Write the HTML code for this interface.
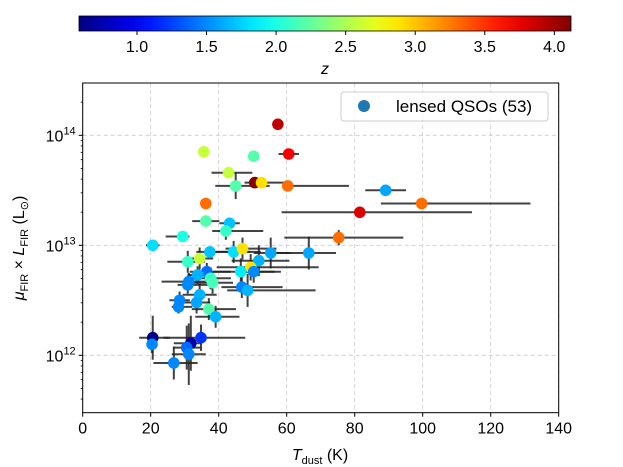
<!DOCTYPE html>
<html><head><meta charset="utf-8"><style>
html,body{margin:0;padding:0;background:#fff;}
svg{display:block;font-family:"Liberation Sans","DejaVu Sans",sans-serif;}
</style></head><body>
<svg id="chart" width="623" height="467" viewBox="0 0 623 467" xmlns="http://www.w3.org/2000/svg">
<defs><linearGradient id="jetgrad" x1="0" x2="1" y1="0" y2="0"></linearGradient></defs>
<g id="cbar"></g>
<g id="grid"></g>
<g id="errs"></g>
<g id="pts"></g>
<g id="axes"></g>
<g id="legend">
<rect x="341" y="92" width="207" height="29" rx="3" fill="#fff" fill-opacity="0.8" stroke="#ccc"/>
<circle cx="364" cy="106" r="6" fill="#1f77b4"/>
<text x="396" y="112" font-size="17" fill="#000">lensed QSOs (53)</text>
</g>
<text x="320" y="460" font-size="16" text-anchor="middle"><tspan font-style="italic">T</tspan><tspan font-size="11" dy="4">dust</tspan><tspan dy="-4"> (K)</tspan></text>
<text transform="translate(24,248) rotate(-90)" font-size="16" text-anchor="middle"><tspan font-style="italic">μ</tspan><tspan font-size="11" dy="4">FIR</tspan><tspan dy="-4"> × </tspan><tspan font-style="italic">L</tspan><tspan font-size="11" dy="4">FIR</tspan><tspan dy="-4"> (L</tspan><tspan font-size="11" dy="4">⊙</tspan><tspan dy="-4">)</tspan></text>
<text x="325" y="74" font-size="16" font-style="italic" text-anchor="middle">z</text>
</svg>
<script>
const tdust=[57.4,35.6,50.3,60.6,42.9,50.6,52.6,45.0,60.3,89.1,36.2,99.7,81.5,36.2,43.2,42.1,29.4,20.6,75.3,37.4,44.4,47.0,55.3,66.5,51.8,34.4,30.9,49.4,46.5,36.5,33.8,37.6,38.2,31.2,30.9,46.8,48.5,34.4,28.5,28.2,33.5,37.1,39.1,20.6,20.4,34.8,31.8,30.6,31.2,26.8,50.3];
const logLum=[14.10,13.85,13.81,13.83,13.66,13.57,13.57,13.54,13.54,13.50,13.38,13.38,13.30,13.22,13.20,13.13,13.08,13.00,13.07,12.94,12.94,12.97,12.93,12.93,12.86,12.88,12.85,12.80,12.76,12.76,12.73,12.70,12.66,12.67,12.64,12.62,12.59,12.55,12.50,12.44,12.48,12.42,12.35,12.16,12.10,12.16,12.11,12.07,12.01,11.93,12.76];
const redshift=[3.9,2.6,2.2,3.7,2.6,4.1,2.9,2.2,3.3,1.6,3.3,3.3,3.8,2.2,1.7,2.1,2.0,1.8,3.3,1.7,1.8,2.9,1.6,1.6,1.65,2.6,2.1,2.9,1.85,1.4,1.65,2.1,2.15,1.5,1.5,1.5,1.65,1.65,1.5,1.5,1.6,2.2,1.65,0.6,1.5,1.2,0.7,1.4,1.5,1.5,1.5];
const tErrLo=[0,0,0,3,5,3,3,6,0,6,0,12,23,4,3,4,5,2,16,4,7,5,5,12,8,4,6,10,8,5,3,5,6,8,3,6,6,5,3,2,4,5,6,4,1,11,5,4,5,6,5];
const tErrHi=[0,0,0,3,7,3,9,10,18,6,0,32,33,4,3,11,2,2,19,12,8,10,6,8,9,4,5,20,10,7,5,6,6,5,6,12,20,5,3,4,4,8,7,5,1,13,3,4,5,7,8];
const lumErrDex=[0,0,0,0,0.05,0,0,0.12,0,0,0,0,0,0,0.05,0.08,0,0,0.07,0,0.1,0.1,0.14,0.15,0.14,0.1,0.1,0.12,0.12,0.08,0.08,0.1,0.1,0.08,0.08,0.1,0.15,0.1,0.08,0.06,0.1,0.1,0.1,0.2,0.08,0.12,0.25,0.2,0.28,0.15,0.1];
const xTicks=[0,20,40,60,80,100,120,140];
const yTickExp=[12,13,14];
const zTicks=[1.0,1.5,2.0,2.5,3.0,3.5,4.0];

const NS="http://www.w3.org/2000/svg";
const X0=82.7,X1=558.7,Y0=83,Y1=412.7;
const xs=t=>X0+(t-0)*(X1-X0)/140;
const ys=l=>245.3-(l-13)*110;
const ZMIN=0.583,ZMAX=4.12,CB0=79,CB1=571;
const zs=z=>CB0+(z-ZMIN)*(CB1-CB0)/(ZMAX-ZMIN);
function jet(t){const c=v=>Math.round(255*Math.max(0,Math.min(1,v)));
 return `rgb(${c(1.5-Math.abs(4*t-3))},${c(1.5-Math.abs(4*t-2))},${c(1.5-Math.abs(4*t-1))})`;}
const zc=z=>jet((z-ZMIN)/(ZMAX-ZMIN));
function mk(tag,at,parent){const e=document.createElementNS(NS,tag);for(const k in at)e.setAttribute(k,at[k]);parent.appendChild(e);return e;}

const grad=document.getElementById('jetgrad');
for(let i=0;i<=20;i++){mk('stop',{offset:i/20,'stop-color':jet(i/20)},grad);}
const cb=document.getElementById('cbar');
const cr=mk('rect',{x:CB0,y:16,width:CB1-CB0,height:15,fill:'url(#jetgrad)',stroke:'#000','stroke-width':0.8},cb);


zTicks.forEach(z=>{
 const l=mk('line',{x1:zs(z),x2:zs(z),y1:31,y2:35,stroke:'#000'},cb);
 
 
 const t=mk('text',{x:zs(z),y:52,'font-size':16,'text-anchor':'middle'},cb);
 t.textContent=z.toFixed(1);
 
 
});

const g=document.getElementById('grid'),ax=document.getElementById('axes');
xTicks.forEach(v=>{
 const gl=mk('line',{x1:xs(v),x2:xs(v),y1:Y0,y2:Y1,stroke:'#ccc','stroke-dasharray':'4,3','stroke-width':0.8},g);
 
 
 const tk=mk('line',{x1:xs(v),x2:xs(v),y1:Y1,y2:Y1+4,stroke:'#000'},ax);
 
 
 const t=mk('text',{x:xs(v),y:Y1+21,'font-size':16,'text-anchor':'middle'},ax);
 t.textContent=v;
 
 
});
yTickExp.forEach(e=>{
 const gl=mk('line',{x1:X0,x2:X1,y1:ys(e),y2:ys(e),stroke:'#ccc','stroke-dasharray':'4,3','stroke-width':0.8},g);
 
 
 const tk=mk('line',{x1:X0-4,x2:X0,y1:ys(e),y2:ys(e),stroke:'#000'},ax);
 
 
 const t=mk('text',{x:X0-7,y:ys(e)+6,'font-size':16,'text-anchor':'end'},ax);
 t.innerHTML='10<tspan font-size="11" dy="-7">'+e+'</tspan>';
 
 
});
for(let e=11;e<=14;e++){for(let m=2;m<=9;m++){const l=e+Math.log10(m);const y=ys(l);if(y<Y0||y>Y1)continue;
 const tk=mk('line',{x1:X0-2,x2:X0,y1:y,y2:y,stroke:'#000','stroke-width':0.8},ax);
 
 }}
const fr=mk('rect',{x:X0,y:Y0,width:X1-X0,height:Y1-Y0,fill:'none',stroke:'#000','stroke-width':1},ax);



const eg=document.getElementById('errs'),pg=document.getElementById('pts');
tdust.forEach((t,i)=>{
 const cx=xs(t),cy=ys(logLum[i]);
 if(tErrLo[i]||tErrHi[i]){
  const l=mk('line',{x1:xs(t-tErrLo[i]),x2:xs(t+tErrHi[i]),y1:cy,y2:cy,stroke:'#222','stroke-opacity':0.85,'stroke-width':2},eg);
  
  
 }
 if(lumErrDex[i]){
  const l=mk('line',{x1:cx,x2:cx,y1:ys(logLum[i]-lumErrDex[i]),y2:ys(logLum[i]+lumErrDex[i]),stroke:'#222','stroke-opacity':0.85,'stroke-width':2},eg);
  
  
 }
 const c=mk('circle',{cx:cx,cy:cy,r:5.8,fill:zc(redshift[i])},pg);
 
 
});
</script>
</body></html>
